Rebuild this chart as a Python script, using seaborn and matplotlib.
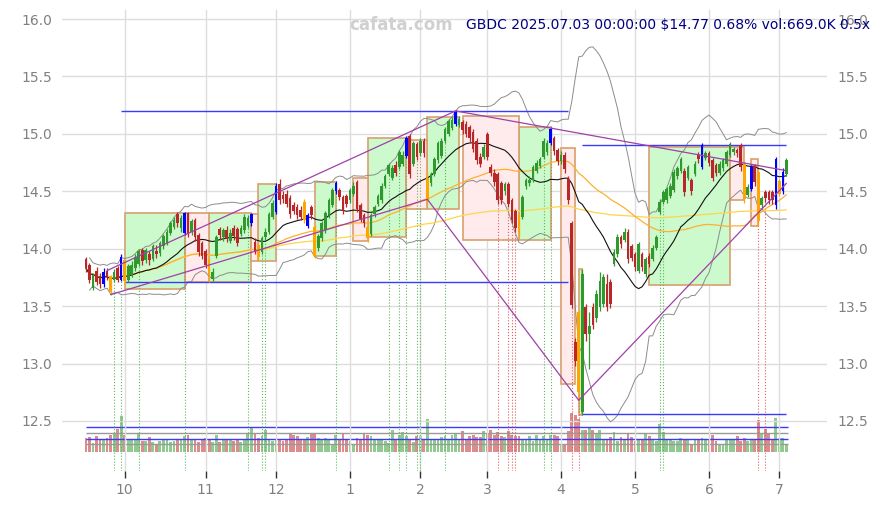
import numpy as np
import pandas as pd
import matplotlib
matplotlib.use("Agg")
import matplotlib.pyplot as plt
import seaborn as sns
from matplotlib.patches import Rectangle

# ---------------- data (daily candles, Sep 2024 - Jul 2025) ----------------
opens = [13.91, 13.86, 13.66, 13.81, 13.76, 13.69, 13.81, 13.76, 13.73, 13.83,
         13.73, 13.90, 13.73, 13.77, 13.83, 13.87, 13.99, 13.90, 13.95, 13.91,
         13.98, 13.96, 14.02, 14.05, 14.14, 14.19, 14.30, 14.18, 14.14, 14.31,
         14.15, 14.25, 14.12, 14.05, 13.98, 13.91, 13.74, 13.94, 14.17, 14.10,
         14.16, 14.07, 14.18, 14.17, 14.13, 14.16, 14.20, 14.22, 14.06, 14.03,
         13.97, 14.10, 14.15, 14.28, 14.32, 14.56, 14.47, 14.48, 14.44, 14.38,
         14.36, 14.34, 14.41, 14.20, 14.36, 14.19, 14.01, 14.09, 14.16, 14.29,
         14.38, 14.50, 14.51, 14.45, 14.46, 14.42, 14.48, 14.58, 14.38, 14.29,
         14.19, 14.13, 14.30, 14.39, 14.42, 14.55, 14.65, 14.62, 14.73, 14.71,
         14.74, 14.81, 14.98, 14.74, 14.91, 14.83, 14.94, 14.42, 14.57, 14.65,
         14.77, 14.81, 14.94, 15.00, 15.05, 15.09, 15.08, 15.10, 15.09, 15.06,
         15.02, 14.94, 14.80, 14.80, 15.00, 14.71, 14.66, 14.65, 14.57, 14.50,
         14.56, 14.42, 14.33, 14.29, 14.28, 14.55, 14.57, 14.60, 14.68, 14.72,
         14.80, 14.84, 14.92, 14.96, 14.86, 14.76, 14.82, 14.61, 14.22, 13.19,
         13.45, 12.58, 13.49, 13.26, 13.49, 13.40, 13.49, 13.52, 13.69, 13.71,
         13.87, 13.95, 14.10, 14.08, 14.15, 14.02, 13.95, 13.81, 13.95, 13.78,
         13.94, 13.91, 14.01, 14.32, 14.41, 14.42, 14.46, 14.51, 14.63, 14.68,
         14.68, 14.62, 14.60, 14.65, 14.82, 14.71, 14.79, 14.83, 14.77, 14.73,
         14.66, 14.70, 14.74, 14.82, 14.84, 14.86, 14.90, 14.74, 14.47, 14.52,
         14.72, 14.67, 14.38, 14.49, 14.49, 14.49, 14.38, 14.48, 14.50, 14.65]

highs = [13.93, 13.88, 13.79, 13.84, 13.79, 13.83, 13.83, 13.77, 13.82, 13.85,
         13.95, 13.91, 13.87, 13.89, 13.95, 14.00, 14.01, 14.01, 13.98, 14.04,
         14.03, 14.07, 14.13, 14.17, 14.24, 14.28, 14.32, 14.29, 14.32, 14.32,
         14.26, 14.27, 14.14, 14.07, 14.00, 13.92, 13.83, 14.12, 14.19, 14.18,
         14.20, 14.17, 14.21, 14.19, 14.21, 14.30, 14.29, 14.31, 14.09, 14.05,
         14.11, 14.18, 14.32, 14.42, 14.57, 14.61, 14.50, 14.51, 14.47, 14.41,
         14.39, 14.37, 14.43, 14.31, 14.38, 14.21, 14.13, 14.24, 14.33, 14.44,
         14.53, 14.59, 14.53, 14.47, 14.48, 14.53, 14.58, 14.60, 14.40, 14.31,
         14.21, 14.31, 14.38, 14.48, 14.57, 14.65, 14.75, 14.73, 14.76, 14.86,
         14.85, 14.98, 15.00, 14.94, 14.93, 14.96, 14.96, 14.68, 14.67, 14.80,
         14.94, 14.96, 15.06, 15.13, 15.15, 15.21, 15.16, 15.12, 15.11, 15.08,
         15.04, 14.96, 14.83, 14.91, 15.02, 14.74, 14.69, 14.67, 14.59, 14.58,
         14.58, 14.44, 14.35, 14.31, 14.47, 14.62, 14.63, 14.73, 14.77, 14.80,
         14.96, 14.95, 15.06, 14.98, 14.88, 14.85, 14.84, 14.63, 14.24, 13.22,
         13.47, 13.82, 13.52, 13.45, 13.53, 13.64, 13.80, 13.78, 13.78, 13.74,
         14.00, 14.13, 14.12, 14.18, 14.17, 14.04, 13.97, 14.06, 13.97, 13.93,
         13.96, 14.03, 14.12, 14.43, 14.51, 14.54, 14.57, 14.69, 14.72, 14.80,
         14.70, 14.73, 14.62, 14.76, 14.84, 14.92, 14.85, 14.85, 14.79, 14.75,
         14.76, 14.79, 14.86, 14.93, 14.89, 14.88, 14.92, 14.76, 14.56, 14.73,
         14.74, 14.69, 14.46, 14.51, 14.51, 14.51, 14.80, 14.61, 14.70, 14.79]

lows = [13.80, 13.70, 13.64, 13.68, 13.66, 13.67, 13.73, 13.60, 13.71, 13.71,
        13.72, 13.68, 13.71, 13.75, 13.81, 13.85, 13.86, 13.88, 13.86, 13.89,
        13.92, 13.94, 14.00, 14.03, 14.12, 14.17, 14.19, 14.15, 14.12, 14.10,
        14.12, 14.07, 13.94, 13.91, 13.83, 13.71, 13.72, 13.92, 14.08, 14.07,
        14.06, 14.05, 14.08, 14.02, 14.11, 14.14, 14.18, 14.20, 13.95, 13.90,
        13.95, 14.08, 14.13, 14.26, 14.30, 14.39, 14.40, 14.36, 14.27, 14.30,
        14.26, 14.25, 14.22, 14.18, 14.26, 13.92, 13.98, 14.07, 14.14, 14.27,
        14.36, 14.48, 14.42, 14.30, 14.36, 14.40, 14.46, 14.32, 14.23, 14.19,
        14.06, 14.11, 14.28, 14.37, 14.40, 14.53, 14.63, 14.60, 14.63, 14.69,
        14.72, 14.79, 14.62, 14.72, 14.77, 14.81, 14.80, 14.38, 14.55, 14.63,
        14.75, 14.79, 14.92, 14.98, 15.03, 15.07, 15.06, 15.00, 14.97, 14.93,
        14.84, 14.74, 14.71, 14.78, 14.77, 14.63, 14.55, 14.39, 14.39, 14.47,
        14.36, 14.22, 14.15, 14.10, 14.26, 14.52, 14.55, 14.58, 14.66, 14.70,
        14.78, 14.82, 14.90, 14.82, 14.73, 14.74, 14.66, 14.39, 13.48, 12.98,
        12.68, 12.55, 13.20, 12.95, 13.30, 13.36, 13.46, 13.49, 13.46, 13.48,
        13.85, 13.93, 14.01, 14.06, 13.88, 13.89, 13.81, 13.79, 13.81, 13.75,
        13.84, 13.89, 13.99, 14.30, 14.39, 14.40, 14.44, 14.49, 14.61, 14.66,
        14.46, 14.60, 14.47, 14.63, 14.75, 14.69, 14.77, 14.72, 14.59, 14.63,
        14.64, 14.68, 14.72, 14.80, 14.82, 14.80, 14.68, 14.40, 14.45, 14.50,
        14.55, 14.20, 14.35, 14.41, 14.39, 14.39, 14.35, 14.46, 14.48, 14.63]

closes = [13.83, 13.73, 13.77, 13.71, 13.69, 13.80, 13.76, 13.62, 13.80, 13.73,
          13.93, 13.72, 13.85, 13.86, 13.93, 13.98, 13.89, 13.99, 13.90, 14.02,
          13.95, 14.05, 14.11, 14.15, 14.22, 14.25, 14.22, 14.27, 14.31, 14.13,
          14.24, 14.10, 13.97, 13.94, 13.86, 13.78, 13.80, 14.10, 14.12, 14.16,
          14.09, 14.14, 14.11, 14.05, 14.18, 14.28, 14.27, 14.30, 13.98, 13.93,
          14.09, 14.15, 14.30, 14.40, 14.55, 14.42, 14.43, 14.39, 14.30, 14.33,
          14.29, 14.28, 14.25, 14.29, 14.29, 13.94, 14.11, 14.22, 14.31, 14.42,
          14.51, 14.57, 14.45, 14.33, 14.39, 14.51, 14.55, 14.35, 14.26, 14.22,
          14.09, 14.29, 14.36, 14.46, 14.55, 14.63, 14.73, 14.70, 14.66, 14.84,
          14.82, 14.96, 14.65, 14.92, 14.80, 14.94, 14.83, 14.62, 14.65, 14.78,
          14.92, 14.94, 15.04, 15.11, 15.12, 15.19, 15.13, 15.03, 15.00, 14.96,
          14.87, 14.77, 14.74, 14.89, 14.80, 14.66, 14.58, 14.42, 14.42, 14.56,
          14.39, 14.25, 14.18, 14.15, 14.45, 14.60, 14.60, 14.71, 14.75, 14.78,
          14.94, 14.92, 15.04, 14.85, 14.76, 14.82, 14.69, 14.42, 13.51, 13.02,
          12.75, 13.78, 13.26, 13.33, 13.34, 13.61, 13.72, 13.75, 13.49, 13.52,
          13.97, 14.10, 14.04, 14.15, 13.91, 13.92, 13.84, 14.04, 13.84, 13.91,
          13.87, 14.01, 14.10, 14.41, 14.49, 14.52, 14.55, 14.67, 14.70, 14.78,
          14.49, 14.71, 14.50, 14.74, 14.78, 14.90, 14.83, 14.75, 14.62, 14.66,
          14.74, 14.77, 14.84, 14.91, 14.87, 14.83, 14.71, 14.43, 14.54, 14.71,
          14.58, 14.24, 14.44, 14.44, 14.42, 14.42, 14.78, 14.59, 14.67, 14.77]

# volume in thousands of shares
volumes = [1120, 1200, 720, 1280, 1064, 1064, 1120, 1360, 1464, 1840,
           2880, 1360, 936, 936, 936, 1464, 856, 856, 1200, 800,
           584, 856, 1064, 936, 776, 880, 1040, 936, 1280, 1360,
           1064, 936, 800, 1064, 1120, 936, 776, 1360, 800, 1064,
           936, 936, 856, 1064, 800, 936, 1440, 1920, 1520, 1144,
           1256, 1736, 936, 856, 1016, 936, 880, 936, 1440, 1336,
           1280, 1064, 1064, 1200, 1440, 1440, 1120, 1016, 1144, 936,
           664, 1336, 1016, 1520, 1016, 856, 664, 1120, 936, 1416,
           1336, 1280, 936, 936, 984, 880, 720, 1736, 1016, 1336,
           1576, 1280, 936, 800, 1280, 1280, 1016, 2616, 1064, 1016,
           936, 1200, 1256, 1064, 1336, 1416, 1064, 1656, 1064, 1256,
           1336, 1200, 1200, 1656, 1464, 1736, 1384, 1600, 1256, 1200,
           1656, 1336, 1256, 1256, 1064, 1064, 1256, 856, 1336, 936,
           1256, 1064, 1336, 1336, 1256, 664, 664, 1656, 3120, 2936,
           2664, 1736, 1736, 2000, 1736, 1416, 1736, 1064, 1064, 1200,
           1576, 880, 1200, 936, 1416, 1200, 880, 936, 936, 1464,
           1256, 936, 856, 2216, 1600, 984, 984, 880, 880, 1144,
           984, 936, 664, 936, 936, 1144, 936, 936, 1336, 880,
           664, 664, 936, 936, 936, 1256, 880, 1120, 880, 984,
           936, 2536, 1544, 1864, 1416, 960, 2744, 1144, 1144, 669]

blue_days = [5, 10, 28, 47, 54, 63, 71, 91, 105, 132, 175, 189, 196, 198]
orange_days = [7, 11, 35, 49, 62, 65, 80, 97, 123, 140, 187, 191, 197]
buy_signals = [8, 10, 15, 28, 46, 50, 51, 71, 86, 89, 91, 94, 95, 102, 130, 132, 163, 164]
sell_signals = [117, 120, 121, 122, 138, 140, 191, 193]

month_starts = [11, 34, 54, 75, 95, 114, 135, 156, 177, 197]
month_labels = ["10", "11", "12", "1", "2", "3", "4", "5", "6", "7"]

# consolidation boxes: (first day, last day, low, high)
up_boxes = [(11, 28, 13.65, 14.31), (35, 47, 13.71, 14.31), (49, 54, 13.89, 14.56),
            (65, 71, 13.94, 14.58), (80, 91, 14.10, 14.96), (97, 106, 14.35, 15.15),
            (123, 132, 14.08, 15.06), (140, 141, 12.55, 13.82), (160, 183, 13.68, 14.89)]
down_boxes = [(28, 35, 13.71, 14.31), (47, 49, 13.89, 14.30), (76, 80, 14.07, 14.62),
              (91, 97, 14.35, 14.95), (107, 123, 14.08, 15.16), (135, 139, 12.82, 14.88),
              (183, 187, 14.42, 14.89), (189, 191, 14.20, 14.78)]

# trend lines: (day0, price0, day1, price1)
trend_lines = [(6, 13.81, 105, 15.20), (7, 13.60, 97, 14.43), (97, 14.43, 140, 12.68),
               (105, 15.20, 199, 14.68), (140, 12.68, 199, 14.57)]

# support / resistance levels: (first day, last day, price)
levels = [(10, 137, 15.20), (11, 137, 13.71), (141, 199, 14.90), (141, 199, 12.56)]

# volume reference levels (thousands)
vol_blue_levels = [2050, 1070]
vol_gray_levels = [1550, 615]

title = "GBDC 2025.07.03 00:00:00 $14.77 0.68% vol:669.0K 0.5x"

# ---------------- indicators ----------------
df = pd.DataFrame({"open": opens, "high": highs, "low": lows,
                   "close": closes, "volume": volumes})
df["day"] = np.arange(len(df))
df["ma20"] = df["close"].rolling(20, min_periods=1).mean()
sd20 = df["close"].rolling(20, min_periods=2).std()
df["bb_up"] = df["ma20"] + 2 * sd20
df["bb_lo"] = df["ma20"] - 2 * sd20
df["ma50"] = df["close"].rolling(50, min_periods=1).mean()
df["ma_long"] = df["close"].expanding().mean()

# ---------------- plot ----------------
sns.set_style("whitegrid", {"grid.color": "#dddddd"})
plt.rcParams["font.family"] = ["DejaVu Sans"]

fig = plt.figure(figsize=(8.81, 5.05), dpi=100, facecolor="white")
ax = fig.add_axes([0.070, 0.067, 0.869, 0.913])
ax2 = ax.twinx()
ax.set_zorder(ax2.get_zorder() + 1)
ax.patch.set_visible(False)

ymin, ymax = 12.063, 16.078

# volume
vol_colors = ["#8fca8f" if c >= o else "#dc8c8c" for o, c in zip(opens, closes)]
ax2.bar(df["day"], df["volume"], width=0.8, color=vol_colors, linewidth=0, zorder=1)
for v in vol_blue_levels:
    ax2.hlines(v, 0, len(df) - 0.5, color="#3a3aff", lw=1.0, zorder=2)
for v in vol_gray_levels:
    ax2.hlines(v, 0, len(df) - 0.5, color="#999999", lw=1.0, zorder=2)
ax2.set_ylim(-1520, 35360)
ax2.set_yticks([])
ax2.grid(False)
for s in ax2.spines.values():
    s.set_visible(False)

# boxes
for a, b, lo, hi in up_boxes:
    ax.add_patch(Rectangle((a, lo), b - a, hi - lo, facecolor="#ccfacc",
                           edgecolor="#d8a070", lw=1.2, zorder=1))
for a, b, lo, hi in down_boxes:
    ax.add_patch(Rectangle((a, lo), b - a, hi - lo, facecolor="#ffebeb",
                           edgecolor="#d8a070", lw=1.2, zorder=1))

# signal markers
for i in buy_signals:
    ax.vlines(i, ymin, lows[i], color="#5cb85c", lw=0.8, linestyles=":", zorder=2)
for i in sell_signals:
    ax.vlines(i, ymin, lows[i], color="#e06060", lw=0.8, linestyles=":", zorder=2)

# indicator lines
sns.lineplot(data=df, x="day", y="bb_up", ax=ax, color="#8c8c8c", lw=0.7, legend=False, zorder=2)
sns.lineplot(data=df, x="day", y="bb_lo", ax=ax, color="#8c8c8c", lw=0.7, legend=False, zorder=2)
sns.lineplot(data=df, x="day", y="ma_long", ax=ax, color="#ffd54a", lw=0.9, legend=False, zorder=2)
sns.lineplot(data=df, x="day", y="ma50", ax=ax, color="#ffb030", lw=0.9, legend=False, zorder=2)
sns.lineplot(data=df, x="day", y="ma20", ax=ax, color="#111111", lw=0.8, legend=False, zorder=2)

# levels
for a, b, p in levels:
    ax.hlines(p, a, b, color="#3a3aff", lw=1.0, zorder=2.5)

# candles
colors = []
for i, (o, c) in enumerate(zip(opens, closes)):
    if i in blue_days:
        colors.append("#0000ff")
    elif i in orange_days:
        colors.append("#ffa500")
    elif c >= o:
        colors.append("#2e9a2e")
    else:
        colors.append("#b82828")
ax.vlines(df["day"], df["low"], df["high"], colors=colors, lw=0.9, zorder=3)
ax.bar(df["day"], df["close"] - df["open"], bottom=df["open"], width=0.75,
       color=colors, linewidth=0, zorder=3)

# trend lines
for d0, p0, d1, p1 in trend_lines:
    ax.plot([d0, d1], [p0, p1], color="#a040a8", lw=0.9, zorder=4)

ax.set_xlim(-6.9, 210.6)
ax.set_ylim(ymin, ymax)
ax.set_xticks(month_starts)
ax.set_xticklabels(month_labels)
yt = np.arange(12.5, 16.01, 0.5)
ax.set_yticks(yt)
ax.set_yticklabels([f"{v:.1f}" for v in yt])
ax.tick_params(axis="x", colors="#808080", labelsize=10, length=5, width=1,
               direction="out", bottom=True)
ax.tick_params(axis="x", color="#333333")
ax.tick_params(axis="y", colors="#808080", labelsize=10, length=0, pad=7,
               labelleft=True, labelright=True)
ax.set_xlabel("")
ax.set_ylabel("")
ax.grid(True, color="#dddddd", lw=1.0)
ax.set_axisbelow(True)
for s in ax.spines.values():
    s.set_visible(False)

fig.text(0.455, 0.950, "cafata.com", ha="center", va="center", color="#d0d0d0",
         fontsize=12, fontweight="bold")
fig.text(0.988, 0.950, title, ha="right", va="center", color="#000080", fontsize=10)

fig.savefig("out.png", dpi=100, facecolor="white")
